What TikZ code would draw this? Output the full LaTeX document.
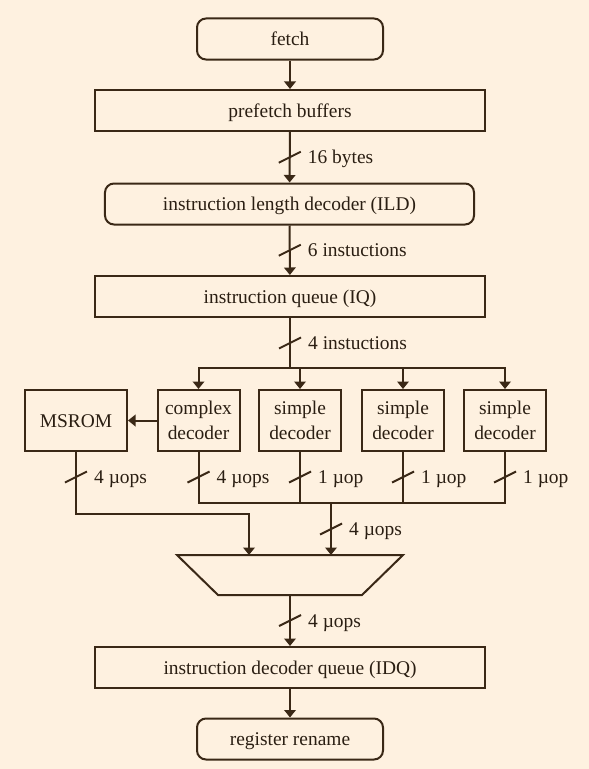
\documentclass[tikz,border=0pt]{standalone}
\usepackage{fontspec}
\setmainfont{Liberation Serif}
\usetikzlibrary{arrows.meta}
\definecolor{bg}{HTML}{FEF1E0}
\definecolor{ln}{HTML}{3A2816}
\definecolor{tx}{HTML}{2A1E12}
\begin{document}
\begin{tikzpicture}[x=1bp,y=-1bp]
\tikzset{
  every node/.style={text=tx, font=\fontsize{19.5}{25}\selectfont},
  box/.style={draw=ln, line width=2bp, inner sep=0pt, minimum height=41bp},
  sbox/.style={box, text height=15bp, text depth=2bp},
  rbox/.style={sbox, rounded corners=9bp},
  dbox/.style={box, minimum width=82bp, minimum height=61bp, align=center},
  wire/.style={draw=ln, line width=2bp},
  arr/.style={wire, -{Triangle[length=7.5bp,width=11.5bp]}},
  lab/.style={anchor=base west, inner sep=0pt, yshift=-6.5bp},
  slashmark/.pic={\draw[wire] (-11,5.5) -- (11,-5.5);}
}
\fill[bg] (0,0) rectangle (589,769);
\useasboundingbox (0,0) rectangle (589,769);
% boxes
\node[rbox, minimum width=186bp] (fetch) at (290,39) {fetch};
\node[sbox, minimum width=390bp] (pf) at (290,110.5) {prefetch buffers};
\node[rbox, minimum width=369bp] (ild) at (289.5,204) {instruction length decoder (ILD)};
\node[sbox, minimum width=390bp] (iq) at (290,296.5) {instruction queue (IQ)};
\node[sbox, minimum width=102bp, minimum height=61bp] (ms) at (76,420.5) {MSROM};
\node[dbox] (cd) at (198.5,420.5) {complex\\decoder};
\node[dbox] (sa) at (300,420.5) {simple\\decoder};
\node[dbox] (sb) at (403,420.5) {simple\\decoder};
\node[dbox] (sc) at (505,420.5) {simple\\decoder};
\node[sbox, minimum width=390bp] (idq) at (290,667.5) {instruction decoder queue (IDQ)};
\node[rbox, minimum width=186bp] (rr) at (290,739) {register rename};
% helper coordinates
\coordinate (bus) at (290,368);
\coordinate (ob) at (0,503);
\coordinate (oy) at (0,477);
\coordinate (mt) at (0,514);
\coordinate (mA) at (249,555);
\coordinate (mB) at (331,555);
\coordinate (mux) at (290,595);
% mux
\draw[wire, line join=miter] (177,555) -- (403,555) -- (362,595) -- (218,595) -- cycle;
% top chain
\draw[arr] (fetch) -- (pf);
\draw[arr] (pf) -- coordinate[pos=0.5] (s1) (ild);
\pic at (s1) {slashmark};
\node[lab] at ([xshift=18bp]s1) {16 bytes};
\draw[arr] (ild) -- coordinate[pos=0.5] (s2) (iq);
\pic at (s2) {slashmark};
\node[lab] at ([xshift=18bp]s2) {6 instuctions};
\draw[wire] (iq.south) -- coordinate[pos=0.5] (s3) (bus);
\pic at (s3) {slashmark};
\node[lab] at ([xshift=18bp]s3) {4 instuctions};
% fan-out to decoders
\draw[arr] (bus) -| (cd.north);
\draw[arr] (bus) -| (sc.north);
\draw[arr] (sa.north |- bus) -- (sa.north);
\draw[arr] (sb.north |- bus) -- (sb.north);
\draw[arr] (cd.west) -- (ms.east);
% decoder outputs
\draw[wire] (cd.south) |- (mB |- ob);
\draw[wire] (sc.south) |- (mB |- ob);
\draw[wire] (sa.south) -- (sa.south |- ob);
\draw[wire] (sb.south) -- (sb.south |- ob);
\pic at (cd.south |- oy) {slashmark};
\pic at (sa.south |- oy) {slashmark};
\pic at (sb.south |- oy) {slashmark};
\pic at (sc.south |- oy) {slashmark};
\pic at (ms.south |- oy) {slashmark};
\node[lab] at ([xshift=18bp]cd.south |- oy) {4 µops};
\node[lab] at ([xshift=18bp]sa.south |- oy) {1 µop};
\node[lab] at ([xshift=18bp]sb.south |- oy) {1 µop};
\node[lab] at ([xshift=18bp]sc.south |- oy) {1 µop};
\node[lab] at ([xshift=18bp]ms.south |- oy) {4 µops};
% into mux
\draw[arr] (ms.south) |- (mA |- mt) -- (mA);
\draw[arr] (mB |- ob) -- coordinate[pos=0.5] (s4) (mB);
\pic at (s4) {slashmark};
\node[lab] at ([xshift=18bp]s4) {4 µops};
% bottom chain
\draw[arr] (mux) -- coordinate[pos=0.5] (s5) (idq);
\pic at (s5) {slashmark};
\node[lab] at ([xshift=18bp]s5) {4 µops};
\draw[arr] (idq) -- (rr);
\end{tikzpicture}
\end{document}
